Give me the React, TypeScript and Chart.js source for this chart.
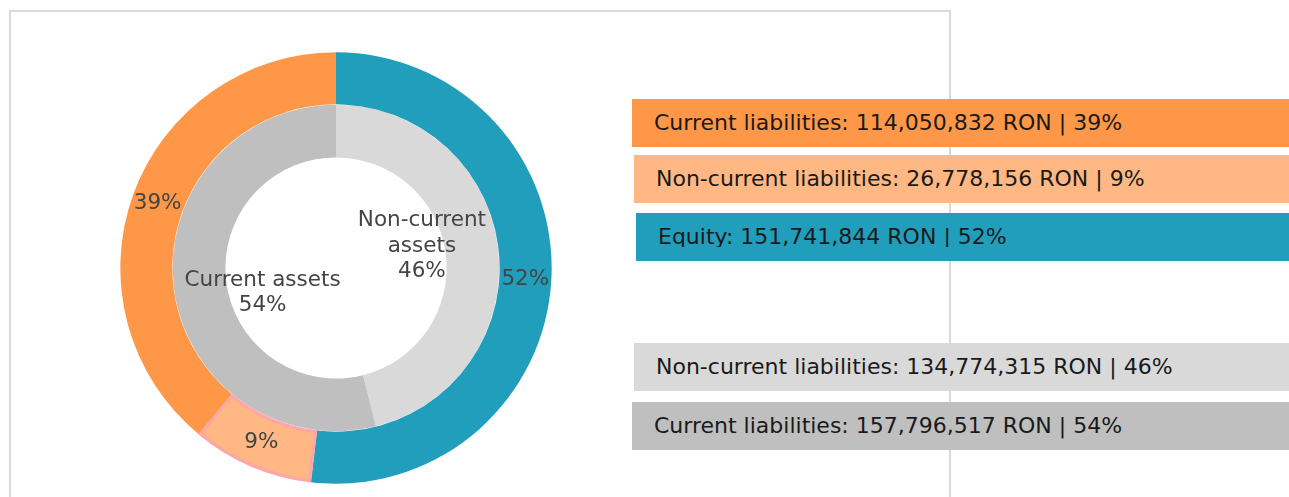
import React, { useEffect, useRef } from "react";
import { Chart, registerables } from "chart.js";

Chart.register(...registerables);

// ---- data ----
const outerLabels = ["Equity", "Non-current liabilities", "Current liabilities"];
const outerValues = [151741844, 26778156, 114050832];
const outerColors = ["#219EBC", "#FFB883", "#FF9748"];

const innerLabels = ["Non-current assets", "Current assets"];
const innerChartText = ["Non-current\nassets", "Current assets"];
const innerValues = [134774315, 157796517];
const innerColors = ["#D9D9D9", "#BFBFBF"];

// legend rows (text as shown on the reference)
const legendTopNames = ["Current liabilities", "Non-current liabilities", "Equity"];
const legendTopIndex = [2, 1, 0];
const legendBottomNames = ["Non-current liabilities", "Current liabilities"];
const legendBottomIndex = [0, 1];

// ---- styles ----
const FONT = '"DejaVu Sans", Verdana, sans-serif';
// label shift (px) from the arc's centre point, inner ring only
const innerLabelShift = [
  [-50, -5],
  [62.5, 8],
];
const topBoxes = [
  { left: 632, top: 99, pad: 22, clip: false },
  { left: 634, top: 155, pad: 22, clip: false },
  { left: 636, top: 213, pad: 22, clip: true },
];
const bottomBoxes = [
  { left: 634, top: 343, pad: 22, clip: false },
  { left: 632, top: 402, pad: 22, clip: false },
];

const sum = (a: number[]) => a.reduce((s, v) => s + v, 0);
const pct = (v: number, arr: number[]) => Math.round((v / sum(arr)) * 100) + "%";
const fmt = (v: number) => v.toLocaleString("en-US");

const labelPlugin = {
  id: "ringLabels",
  afterDatasetsDraw(chart: any) {
    const ctx = chart.ctx;
    ctx.save();
    ctx.font = `21.5px ${FONT}`;
    ctx.fillStyle = "#444444";
    ctx.textAlign = "center";
    ctx.textBaseline = "middle";
    chart.data.datasets.forEach((ds: any, di: number) => {
      const meta = chart.getDatasetMeta(di);
      meta.data.forEach((arc: any, i: number) => {
        const c = arc.getCenterPoint(true);
        const values = ds.data as number[];
        let cx = c.x;
        let cy = c.y;
        let lines: string[];
        if (di === 0) {
          lines = [pct(values[i], values)];
        } else {
          cx += innerLabelShift[i][0];
          cy += innerLabelShift[i][1];
          lines = [...innerChartText[i].split("\n"), pct(values[i], values)];
        }
        const lh = 25.5;
        const y0 = cy - ((lines.length - 1) * lh) / 2;
        lines.forEach((t, k) => ctx.fillText(t, cx, y0 + k * lh));
      });
    });
    ctx.restore();
  },
};

function LegendBox({ text, color, box }: { text: string; color: string; box: any }) {
  return (
    <div
      style={{
        position: "absolute",
        left: box.left,
        top: box.top,
        width: 1400 - box.left,
        height: 48,
        background: color,
        boxSizing: "border-box",
        paddingLeft: box.pad,
        overflow: "hidden",
      }}
    >
      <div
        style={{
          height: box.clip ? 34 : 48,
          lineHeight: "48px",
          overflow: "hidden",
          fontFamily: FONT,
          fontSize: 22,
          color: "#1a1a1a",
          whiteSpace: "nowrap",
        }}
      >
        {text}
      </div>
    </div>
  );
}

export default function App() {
  const ref = useRef<HTMLCanvasElement>(null);

  useEffect(() => {
    if (!ref.current) return;
    const chart = new Chart(ref.current, {
      type: "doughnut",
      data: {
        labels: outerLabels,
        datasets: [
          {
            label: "Liabilities and equity",
            data: outerValues,
            backgroundColor: outerColors,
            borderColor: ["#219EBC", "#FFA6A6", "#FF9748"],
            borderWidth: [0, 3, 0],
            borderAlign: "inner",
          },
          {
            label: "Assets",
            labels: innerLabels,
            data: innerValues,
            backgroundColor: innerColors,
            borderWidth: 0,
          },
        ],
      } as any,
      options: {
        responsive: false,
        animation: false,
        cutout: "51.2%",
        events: [],
        layout: { padding: 0 },
        plugins: {
          legend: { display: false },
          tooltip: { enabled: false },
        },
      } as any,
      plugins: [labelPlugin],
    });
    return () => chart.destroy();
  }, []);

  const topData = legendTopIndex.map((idx, k) => ({
    text: `${legendTopNames[k]}: ${fmt(outerValues[idx])} RON | ${pct(outerValues[idx], outerValues)}`,
    color: outerColors[idx],
  }));
  const bottomData = legendBottomIndex.map((idx, k) => ({
    text: `${legendBottomNames[k]}: ${fmt(innerValues[idx])} RON | ${pct(innerValues[idx], innerValues)}`,
    color: innerColors[idx],
  }));

  return (
    <div
      style={{
        position: "fixed",
        left: 0,
        top: 0,
        width: "100vw",
        height: "100vh",
        overflow: "hidden",
        background: "#ffffff",
      }}
    >
      <div
        style={{
          position: "absolute",
          left: 9,
          top: 10,
          width: 942,
          height: 700,
          border: "2px solid #D9D9D9",
          boxSizing: "border-box",
        }}
      />
      <canvas
        ref={ref}
        width={432}
        height={432}
        style={{ position: "absolute", left: 120, top: 52, width: 432, height: 432 }}
      />
      {topData.map((d, k) => (
        <LegendBox key={"t" + k} text={d.text} color={d.color} box={topBoxes[k]} />
      ))}
      {bottomData.map((d, k) => (
        <LegendBox key={"b" + k} text={d.text} color={d.color} box={bottomBoxes[k]} />
      ))}
    </div>
  );
}
